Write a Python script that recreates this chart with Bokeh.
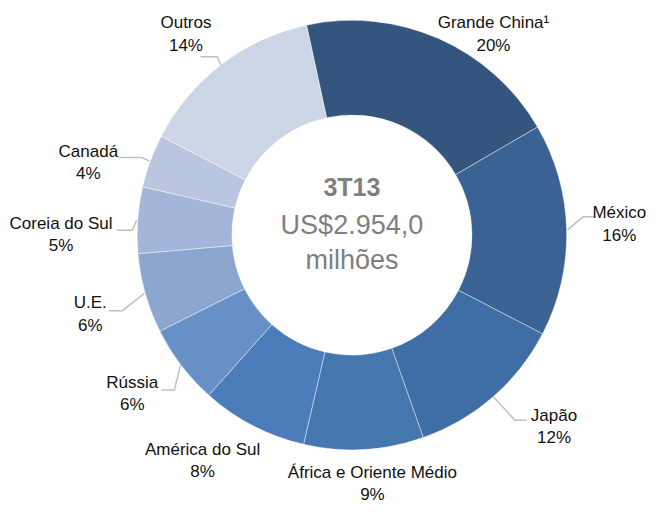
import math
from bokeh.plotting import figure
from bokeh.models import Range1d, ColumnDataSource
from bokeh.core.properties import value
from bokeh.embed import file_html
from bokeh.resources import INLINE

# ---- data ----
categories = ["Grande China¹", "México", "Japão", "África e Oriente Médio",
              "América do Sul", "Rússia", "U.E.", "Coreia do Sul", "Canadá", "Outros"]
shares = [20, 16, 12, 9, 8, 6, 6, 5, 4, 14]
pct_labels = ["20%", "16%", "12%", "9%", "8%", "6%", "6%", "5%", "4%", "14%"]
center_title = "3T13"
center_value = "US$2.954,0"
center_unit = "milhões"

# ---- styles ----
colors = ["#34567E", "#3A6293", "#3F6DA5", "#4676AE", "#4C7DBA",
          "#6690C6", "#8CA6CF", "#A3B5D8", "#BAC6DF", "#CCD5E6"]
FONT = "Liberation Sans"
W, H = 655, 503
REF_W, REF_H = 671, 519
CX, CY = 360, 242          # layout coords of centre (top-left origin)
R_OUT, R_IN = 220, 123
START_DEG = -12.2          # clockwise from 12 o'clock

# label layout (first line centre), leader elbow & end (None = no leader)
label_pos = [(505, 23), (634, 219), (567, 428), (381, 487), (207, 463),
             (135, 394), (92, 312), (62, 230), (90, 156), (190, 23)]
leaders = [None, ((597, 223), (609, 223)), ((527, 433), (539, 433)), None, None,
           ((178, 402), (165, 402)), ((125, 320), (111, 320)),
           ((135, 237), (119, 237)), ((145, 162), (121, 162)),
           ((222, 58), (205, 58))]
LINE_GAP = 23

def Y(img_y):
    return REF_H - img_y

p = figure(width=W, height=H, output_backend="svg", toolbar_location=None,
           x_range=Range1d(0, REF_W), y_range=Range1d(0, REF_H),
           min_border=0, outline_line_color=None)
p.axis.visible = False
p.grid.visible = False
p.background_fill_color = "white"
p.border_fill_color = "white"

total = float(sum(shares))
starts, ends, mids = [], [], []
theta = START_DEG
for v in shares:
    t1 = theta + 360.0 * v / total
    starts.append(math.radians(90 - t1))
    ends.append(math.radians(90 - theta))
    mids.append((theta + t1) / 2.0)
    theta = t1

src = ColumnDataSource(dict(start=starts, end=ends, color=colors, cat=categories))
p.annular_wedge(x=CX, y=Y(CY), inner_radius=R_IN, outer_radius=R_OUT,
                start_angle="start", end_angle="end", fill_color="color",
                line_color="white", line_width=0.6, line_alpha=0.7, source=src)

# leader lines
for i, ld in enumerate(leaders):
    if ld is None:
        continue
    m = math.radians(mids[i])
    sx = CX + (R_OUT + 1) * math.sin(m)
    sy = CY - (R_OUT + 1) * math.cos(m)
    (ex1, ey1), (ex2, ey2) = ld
    p.line([sx, ex1, ex2], [Y(sy), Y(ey1), Y(ey2)], line_color="#BFBFBF", line_width=1.5)

# labels
lx = [pt[0] for pt in label_pos]
ly1 = [Y(pt[1]) for pt in label_pos]
ly2 = [Y(pt[1] + LINE_GAP) for pt in label_pos]
p.text(x=lx, y=ly1, text=categories, text_align="center", text_baseline="middle",
       text_font=value(FONT), text_font_size="17px", text_color="#111111")
p.text(x=lx, y=ly2, text=pct_labels, text_align="center", text_baseline="middle",
       text_font=value(FONT), text_font_size="17px", text_color="#111111")

# centre text
p.text(x=[CX], y=[Y(192)], text=[center_title], text_align="center", text_baseline="middle",
       text_font=value(FONT), text_font_size="25px", text_font_style="bold", text_color="#7F7F7F")
p.text(x=[CX, CX], y=[Y(232), Y(268)], text=[center_value, center_unit], text_align="center",
       text_baseline="middle", text_font=value(FONT), text_font_size="27px", text_color="#7F7F7F")

open("out.html", "w").write(file_html(p, INLINE))
